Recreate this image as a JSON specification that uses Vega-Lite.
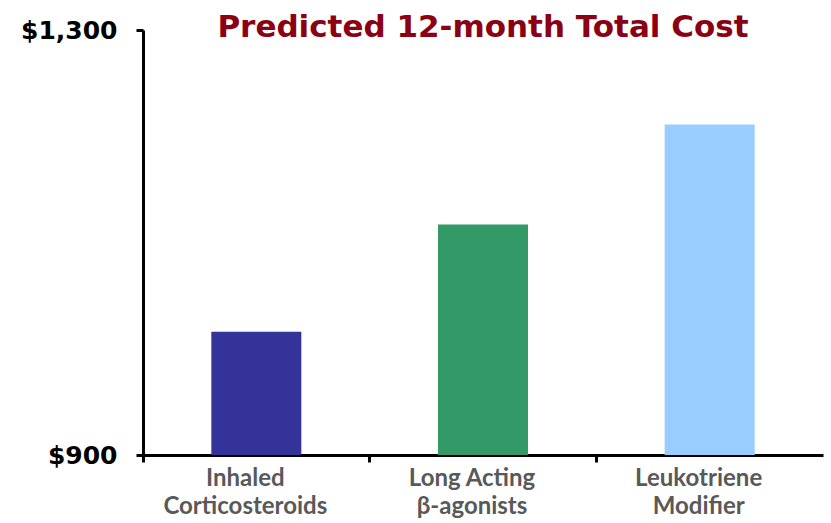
{
  "$schema": "https://vega.github.io/schema/vega-lite/v6.json",
  "width": 680,
  "height": 425,
  "autosize": "none",
  "padding": {"left": 143, "top": 30, "right": 8, "bottom": 68},
  "background": "white",
  "title": {
    "text": "Predicted 12-month Total Cost",
    "font": "DejaVu Sans",
    "fontSize": 31,
    "fontWeight": "bold",
    "color": "#8B0012",
    "anchor": "middle",
    "baseline": "alphabetic",
    "offset": 0,
    "dy": 50
  },
  "data": {
    "values": [
      {"category": "Inhaled|Corticosteroids", "cost": 1016, "order": 1},
      {"category": "Long Acting|β-agonists", "cost": 1117, "order": 2},
      {"category": "Leukotriene|Modifier", "cost": 1211, "order": 3}
    ]
  },
  "mark": {"type": "bar", "width": 90},
  "encoding": {
    "x": {
      "field": "category",
      "type": "nominal",
      "sort": {"field": "order"},
      "scale": {"paddingInner": 0, "paddingOuter": 0},
      "axis": {
        "title": null,
        "labelAngle": 0,
        "labelExpr": "split(datum.label, '|')",
        "labelFont": "Lato",
        "labelFontSize": 24,
        "labelFontWeight": "bold",
        "labelColor": "#595959",
        "labelLineHeight": 28,
        "labelPadding": 4,
        "labelOffset": -11,
        "bandPosition": 0,
        "domainColor": "black",
        "domainWidth": 3,
        "tickColor": "black",
        "tickWidth": 3,
        "tickSize": 7
      }
    },
    "y": {
      "field": "cost",
      "type": "quantitative",
      "scale": {"domain": [900, 1300], "nice": false, "zero": false},
      "axis": {
        "title": null,
        "values": [900, 1300],
        "format": "$,.0f",
        "grid": false,
        "labelFont": "DejaVu Sans",
        "labelFontSize": 25,
        "labelFontWeight": "bold",
        "labelColor": "black",
        "labelPadding": 19,
        "domainColor": "black",
        "domainWidth": 3,
        "tickColor": "black",
        "tickWidth": 3,
        "tickSize": 7
      }
    },
    "y2": {"datum": 900},
    "color": {
      "field": "category",
      "type": "nominal",
      "scale": {
        "domain": ["Inhaled|Corticosteroids", "Long Acting|β-agonists", "Leukotriene|Modifier"],
        "range": ["#333399", "#339966", "#99CCFF"]
      },
      "legend": null
    }
  },
  "config": {"view": {"stroke": null}}
}
